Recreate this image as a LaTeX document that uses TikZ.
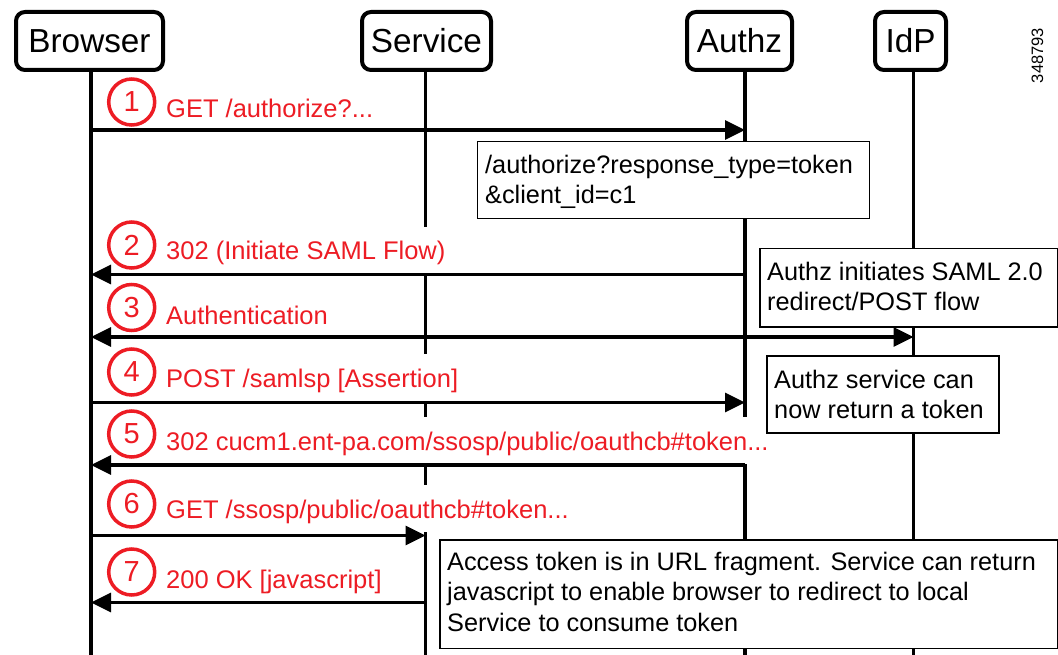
\documentclass[tikz,border=0pt]{standalone}
\usepackage{fontspec}
\setmainfont{Liberation Sans}
\usetikzlibrary{arrows.meta,calc}
\definecolor{stepred}{RGB}{237,28,36}
\begin{document}
\begin{tikzpicture}[x=1pt,y=-1pt,
  actor/.style={draw, line width=4pt, rounded corners=9pt, fill=white, minimum height=58pt, inner sep=0pt, font=\fontsize{33.3}{40}\selectfont},
  life/.style={line width=3.3pt},
  msg/.style={line width=3.3pt, -{Triangle[length=20pt,width=19pt]}},
  msgboth/.style={line width=3.3pt, {Triangle[length=20pt,width=19pt]}-{Triangle[length=20pt,width=19pt]}},
  lbl/.style={text=stepred, fill=white, anchor=base west, inner xsep=1pt, inner ysep=0pt, text height=33pt, text depth=14pt, font=\fontsize{25.5}{30}\selectfont},
  stepnum/.style={circle, draw=stepred, text=stepred, line width=3.5pt, minimum size=46pt, inner sep=0pt, font=\fontsize{29}{34}\selectfont},
  notebox/.style={draw, fill=white, line width=1.5pt, anchor=north west, inner sep=0pt},
  notetext/.style={anchor=north west, inner sep=0pt, align=left, font=\fontsize{25.3}{30.5}\selectfont},
]
\useasboundingbox (0,0) rectangle (1058,655);

% participants
\node[actor, minimum width=147pt] (browser) at (89.5,41) {Browser};
\node[actor, minimum width=129pt] (service) at (426.5,41) {Service};
\node[actor, minimum width=105pt] (authz) at (739.5,41) {Authz};
\node[actor, minimum width=71pt] (idp) at (910.5,41) {IdP};

% lifeline ends
\coordinate (bl) at (91,655);
\coordinate (sl) at (425.5,655);
\coordinate (al) at (745,655);
\coordinate (il) at (913.5,655);

\draw[life] (browser.south -| bl) -- (bl);
\draw[life] (service.south -| sl) -- (sl);
\draw[life] (authz.south -| al) -- (al);
\draw[life] (idp.south -| il) -- (il);

% rows
\coordinate (r1) at (0,130);
\coordinate (r2) at (0,274.5);
\coordinate (r3) at (0,337);
\coordinate (r4) at (0,402.5);
\coordinate (r5) at (0,465);
\coordinate (r6) at (0,535.5);
\coordinate (r7) at (0,602.5);

% message labels
\node[lbl] (l1) at (165,118) {GET /authorize?...};
\node[lbl] (l2) at (165,260) {302 (Initiate SAML Flow)};
\node[lbl] (l3) at (165,324) {Authentication};
\node[lbl] (l4) at (165,387) {POST /samlsp [Assertion]};
\node[lbl] (l5) at (165,450) {302 cucm1.ent-pa.com/ssosp/public/oauthcb\#token...};
\node[lbl] (l6) at (165,518) {GET /ssosp/public/oauthcb\#token...};
\node[lbl] (l7) at (165,588) {200 OK [javascript]};

% notes
\node[notebox, minimum width=392pt, minimum height=77pt] (n1) at (476.5,141) {};
\node[notetext] (n1t) at (485,152) {\rule{0pt}{21pt}/authorize?response\_type=token\\\&client\_id=c1};

\node[notebox, minimum width=297.5pt, minimum height=78pt] (n2) at (759,248) {};
\node[notetext] (n2t) at (767,259) {\rule{0pt}{21pt}Authz initiates SAML 2.0\\redirect/POST flow};

\node[notebox, minimum width=232pt, minimum height=77pt] (n3) at (766,355) {};
\node[notetext] (n3t) at (774,367) {\rule{0pt}{21pt}Authz service can\\now return a token};

\node[notebox, minimum width=617.5pt, minimum height=108.5pt] (n4) at (439,539) {};
\node[notetext] (n4t) at (447,549) {\rule{0pt}{21pt}Access token is in URL fragment. Service can return\\javascript to enable browser to redirect to local\\Service to consume token};

% messages
\draw[msg] (bl |- r1) -- (al |- r1);
\draw[msg] (al |- r2) -- (bl |- r2);
\draw[msgboth] (bl |- r3) -- (il |- r3);
\draw[msg] (bl |- r4) -- (al |- r4);
\draw[msg] (al |- r5) -- (bl |- r5);
\draw[msg] (bl |- r6) -- (sl |- r6);
\draw[msg] (sl |- r7) -- (bl |- r7);

% step numbers
\node[stepnum] (c1) at (131.7,102) {1};
\node[stepnum] (c2) at (131.7,245) {2};
\node[stepnum] (c3) at (131.7,307.5) {3};
\node[stepnum] (c4) at (131.7,372) {4};
\node[stepnum] (c5) at (131.7,434) {5};
\node[stepnum] (c6) at (131.7,504) {6};
\node[stepnum] (c7) at (131.7,572) {7};

% figure id
\node[rotate=90, inner sep=0pt, font=\fontsize{16.5}{20}\selectfont] (figid) at (1037.5,55.5) {348793};
\end{tikzpicture}
\end{document}
